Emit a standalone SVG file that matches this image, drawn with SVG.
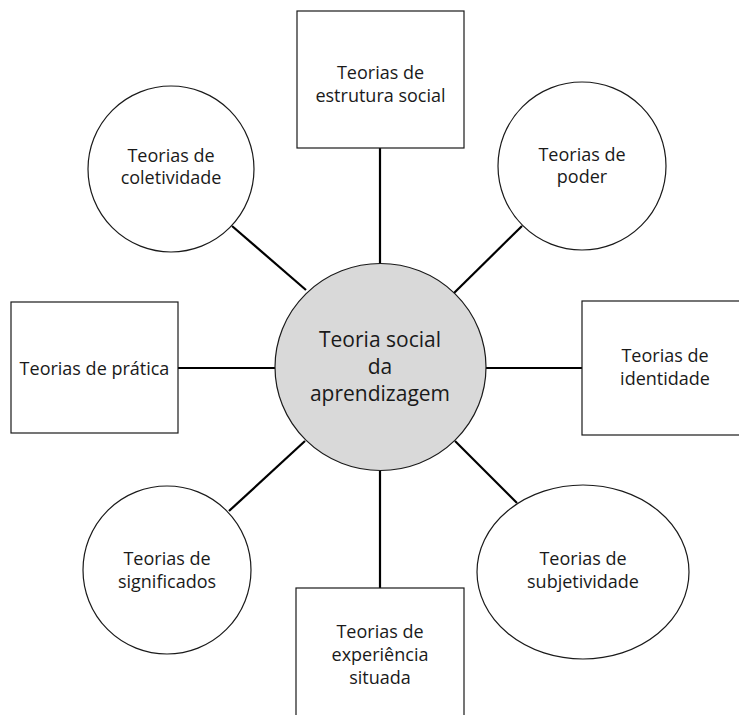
<svg xmlns="http://www.w3.org/2000/svg" width="739" height="715" viewBox="0 0 739 715">
  <style>
    .node { fill: #ffffff; stroke: #1a1a1a; stroke-width: 1.2; }
    .hub { fill: #d9d9d9; stroke: #1a1a1a; stroke-width: 1.2; }
    .link { stroke: #000000; stroke-width: 2.2; fill: none; }
    text { font-family: "Open Sans", "Noto Sans", sans-serif; fill: #1a1a1a; text-anchor: middle; }
    .lbl { font-size: 18px; }
    .hubtxt { font-size: 21px; }
  </style>
  <rect width="739" height="715" fill="#ffffff"/>

  <!-- spokes from the hub to each theory -->
  <g id="connectors">
    <line class="link" x1="380" y1="148" x2="380" y2="264"/>
    <line class="link" x1="178" y1="368" x2="275" y2="368"/>
    <line class="link" x1="486" y1="368" x2="582" y2="368"/>
    <line class="link" x1="380" y1="471" x2="380" y2="588"/>
    <line class="link" x1="232" y1="226" x2="306" y2="290"/>
    <line class="link" x1="522" y1="226" x2="454" y2="293"/>
    <line class="link" x1="305" y1="441" x2="229" y2="511"/>
    <line class="link" x1="455" y1="441" x2="517" y2="503"/>
  </g>

  <g id="hub">
    <ellipse class="hub" cx="380.5" cy="367" rx="105.5" ry="103.5"/>
    <text class="hubtxt" x="380" y="347">Teoria social</text>
    <text class="hubtxt" x="380" y="374">da</text>
    <text class="hubtxt" x="380" y="401">aprendizagem</text>
  </g>

  <g id="estrutura-social">
    <rect class="node" x="297" y="11" width="167" height="137"/>
    <text class="lbl" x="380.5" y="79">Teorias de</text>
    <text class="lbl" x="380.5" y="102">estrutura social</text>
  </g>

  <g id="coletividade">
    <circle class="node" cx="171" cy="169" r="83"/>
    <text class="lbl" x="171" y="162">Teorias de</text>
    <text class="lbl" x="171" y="184">coletividade</text>
  </g>

  <g id="poder">
    <circle class="node" cx="582" cy="166" r="84"/>
    <text class="lbl" x="582" y="161">Teorias de</text>
    <text class="lbl" x="582" y="183">poder</text>
  </g>

  <g id="pratica">
    <rect class="node" x="11" y="302" width="167" height="131"/>
    <text class="lbl" x="94.5" y="375">Teorias de prática</text>
  </g>

  <g id="identidade">
    <rect class="node" x="582" y="301" width="167" height="134"/>
    <text class="lbl" x="665" y="362">Teorias de</text>
    <text class="lbl" x="665" y="385">identidade</text>
  </g>

  <g id="significados">
    <circle class="node" cx="167" cy="570" r="84"/>
    <text class="lbl" x="167" y="565">Teorias de</text>
    <text class="lbl" x="167" y="588">significados</text>
  </g>

  <g id="subjetividade">
    <ellipse class="node" cx="583" cy="572" rx="106" ry="87"/>
    <text class="lbl" x="583" y="565">Teorias de</text>
    <text class="lbl" x="583" y="588">subjetividade</text>
  </g>

  <g id="experiencia-situada">
    <rect class="node" x="296" y="588" width="168" height="134"/>
    <text class="lbl" x="380" y="638">Teorias de</text>
    <text class="lbl" x="380" y="661">experiência</text>
    <text class="lbl" x="380" y="684">situada</text>
  </g>
</svg>
